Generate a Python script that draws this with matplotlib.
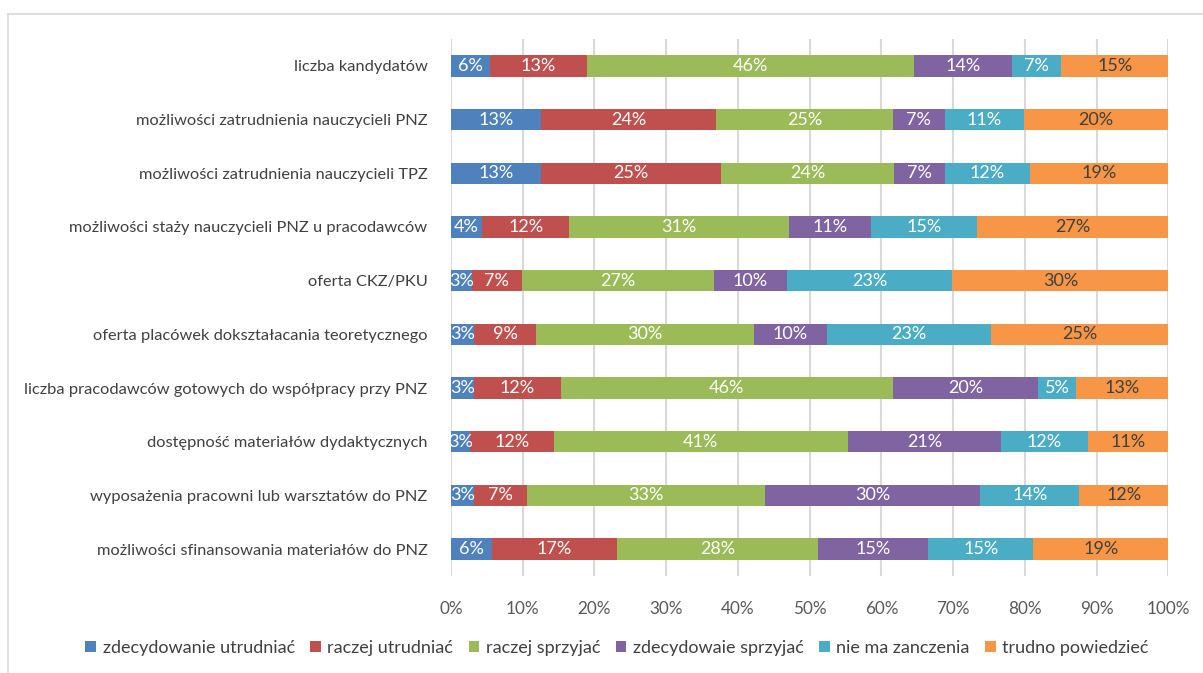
import matplotlib
matplotlib.use("Agg")
import matplotlib.pyplot as plt
import numpy as np

categories = [
    "liczba kandydatów",
    "możliwości zatrudnienia nauczycieli PNZ",
    "możliwości zatrudnienia nauczycieli TPZ",
    "możliwości staży nauczycieli PNZ u pracodawców",
    "oferta CKZ/PKU",
    "oferta placówek dokształacania teoretycznego",
    "liczba pracodawców gotowych do współpracy przy PNZ",
    "dostępność materiałów dydaktycznych",
    "wyposażenia pracowni lub warsztatów do PNZ",
    "możliwości sfinansowania materiałów do PNZ",
]
series_names = ["zdecydowanie utrudniać", "raczej utrudniać", "raczej sprzyjać",
                "zdecydowaie sprzyjać", "nie ma zanczenia", "trudno powiedzieć"]

zdecydowanie_utrudniac = [5.5, 12.6, 12.6, 4.3, 2.9, 3.2, 3.2, 2.6, 3.2, 5.7]
raczej_utrudniac      = [13.4, 24.4, 25.0, 12.2, 7.0, 8.7, 12.1, 11.7, 7.4, 17.4]
raczej_sprzyjac       = [45.6, 24.6, 24.2, 30.6, 26.7, 30.3, 46.3, 41.0, 33.2, 28.0]
zdecydowanie_sprzyjac = [13.7, 7.2, 7.0, 11.4, 10.3, 10.2, 20.3, 21.4, 29.9, 15.4]
nie_ma_znaczenia      = [6.9, 11.1, 11.9, 14.9, 23.0, 22.9, 5.2, 12.1, 13.8, 14.6]
trudno_powiedziec     = [14.9, 20.1, 19.3, 26.6, 30.1, 24.7, 12.9, 11.2, 12.4, 18.8]

xticks = [0, 10, 20, 30, 40, 50, 60, 70, 80, 90, 100]

colors = ["#4F81BD", "#C0504D", "#9BBB59", "#8064A2", "#4BACC6", "#F79646"]
label_colors = ["white", "white", "white", "white", "white", "#404040"]

data = [zdecydowanie_utrudniac, raczej_utrudniac, raczej_sprzyjac,
        zdecydowanie_sprzyjac, nie_ma_znaczenia, trudno_powiedziec]

plt.rcParams['font.family'] = ['Lato', 'DejaVu Sans']

W, H = 1203, 673
fig = plt.figure(figsize=(W / 100, H / 100), dpi=100)
ax = fig.add_axes([451 / W, 1 - 576 / H, (1168.3 - 451) / W, (576 - 39) / H])

# frame around the chart area
fig.add_artist(plt.Line2D([8 / W, 8 / W], [0, 1 - 14 / H], color="#D9D9D9", lw=1.2,
                          transform=fig.transFigure))
fig.add_artist(plt.Line2D([8 / W, 1], [1 - 14 / H, 1 - 14 / H], color="#D9D9D9", lw=1.2,
                          transform=fig.transFigure))

y = np.arange(len(categories))
left = np.zeros(len(categories))
tot = np.array([sum(d[i] for d in data) for i in range(len(categories))])
for vals, name, c, lc in zip(data, series_names, colors, label_colors):
    vals = np.array(vals)
    widths = vals / tot * 100
    ax.barh(y, widths, left=left, height=0.4, color=c, label=name, zorder=3)
    for yi, l, w, v in zip(y, left, widths, vals):
        ax.text(l + w / 2, yi, f"{v:.0f}%", ha="center", va="center",
                color=lc, fontsize=13, zorder=4)
    left += widths

ax.set_ylim(len(categories) - 0.5, -0.5)
ax.set_xlim(0, 100)
ax.set_yticks(y)
ax.set_yticklabels(categories, fontsize=11.8, color="#404040")
ax.set_xticks(xticks)
ax.set_xticklabels([f"{t}%" for t in xticks], fontsize=12.3, color="#595959")
ax.tick_params(axis="both", length=0)
ax.tick_params(axis="y", pad=17)
ax.tick_params(axis="x", pad=18)
ax.grid(axis="x", color="#D9D9D9", lw=1.5, zorder=0)
for s in ax.spines.values():
    s.set_visible(False)

handles, labels = ax.get_legend_handles_labels()
fig.legend(handles, labels, loc="center", bbox_to_anchor=(617 / W, 1 - 648 / H),
           ncol=6, frameon=False, fontsize=13, handlelength=0.6, handleheight=0.6,
           handletextpad=0.35, columnspacing=0.85, labelcolor="#404040")

fig.savefig("out.png", dpi=100)
